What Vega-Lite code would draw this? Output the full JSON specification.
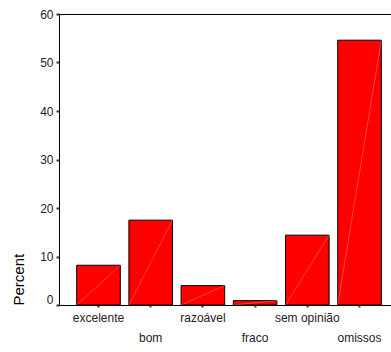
{
  "$schema": "https://vega.github.io/schema/vega-lite/v6.json",
  "autosize": "none",
  "width": 340,
  "height": 291,
  "padding": {"left": 59, "top": 14, "right": 0, "bottom": 47},
  "background": "white",
  "config": {
    "view": {"stroke": "black", "strokeWidth": 1},
    "font": "Liberation Sans"
  },
  "data": {
    "values": [
      {"category": "excelente", "percent": 8.2},
      {"category": "bom", "percent": 17.5},
      {"category": "razoável", "percent": 4.0},
      {"category": "fraco", "percent": 0.9},
      {"category": "sem opinião", "percent": 14.4},
      {"category": "omissos", "percent": 54.6}
    ]
  },
  "encoding": {
    "x": {
      "field": "category",
      "type": "nominal",
      "sort": null,
      "scale": {"paddingInner": 0.165, "paddingOuter": 0.339},
      "axis": {
        "title": null,
        "labelAngle": 0,
        "labelFont": "Liberation Sans",
        "labelFontSize": 12,
        "labelColor": "#222222",
        "labelPadding": {"condition": {"test": "indexof(['bom','fraco','omissos'], datum.value) >= 0", "value": 25}, "value": 5},
        "tickSize": 2,
        "tickWidth": 2,
        "tickColor": "#333333",
        "domainColor": "black",
        "domainWidth": 1
      }
    },
    "y": {
      "field": "percent",
      "type": "quantitative",
      "scale": {"domain": [0, 60], "nice": false},
      "axis": {
        "title": "Percent",
        "titleFont": "Liberation Sans",
        "titleFontSize": 15,
        "titleFontWeight": "normal",
        "titleColor": "black",
        "titleAnchor": "start",
        "titlePadding": 13,
        "values": [0, 10, 20, 30, 40, 50, 60],
        "grid": false,
        "labelFont": "Liberation Sans",
        "labelFontSize": 12,
        "labelColor": "#222222",
        "labelOffset": {"condition": {"test": "datum.value == 0", "value": -6}, "value": 0},
        "labelPadding": 3,
        "tickSize": 3,
        "tickWidth": 2,
        "tickColor": "#333333",
        "domainColor": "black",
        "domainWidth": 1
      }
    }
  },
  "layer": [
    {
      "mark": {"type": "bar", "color": "#ff0000", "stroke": "black", "strokeWidth": 1}
    },
    {
      "mark": {"type": "rule", "color": "white", "strokeWidth": 0.5, "opacity": 0.5},
      "encoding": {
        "x": {"field": "category", "type": "nominal", "sort": null, "bandPosition": 0},
        "x2": {"field": "category", "bandPosition": 1},
        "y": {"datum": 0, "type": "quantitative"},
        "y2": {"field": "percent"}
      }
    }
  ]
}
